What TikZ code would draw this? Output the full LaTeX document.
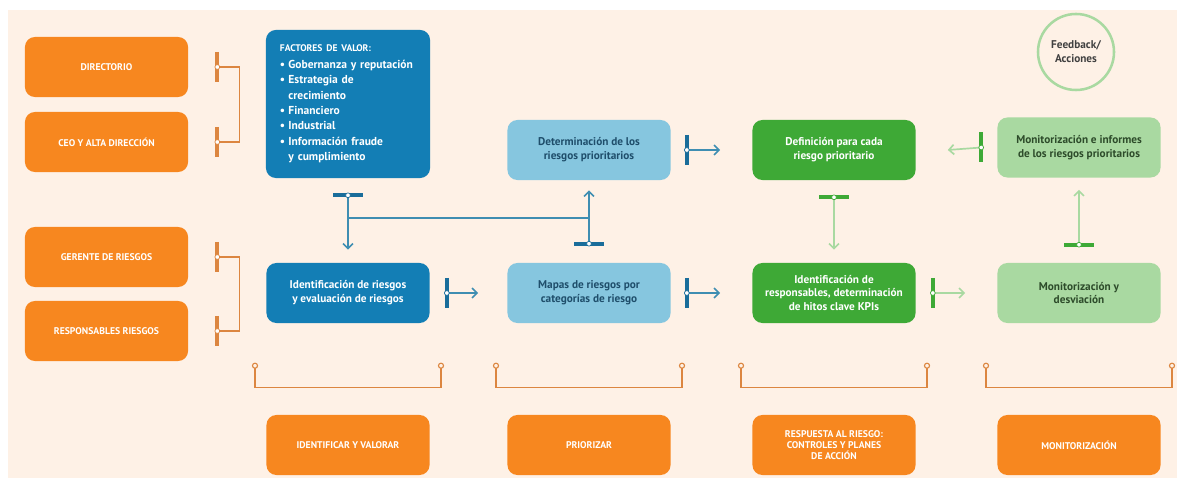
\documentclass[tikz,border=0pt]{standalone}
\usepackage{fontspec}
\setmainfont{PT Sans}
\usetikzlibrary{arrows.meta,calc}

\definecolor{crema}{HTML}{FEF1E6}
\definecolor{naranja}{HTML}{F7871F}
\definecolor{naranjaos}{HTML}{DC8640}
\definecolor{azul}{HTML}{137EB5}
\definecolor{azulcl}{HTML}{86C6DF}
\definecolor{azultx}{HTML}{1F4E6B}
\definecolor{azulln}{HTML}{3F8EB2}
\definecolor{azultk}{HTML}{1A6D9A}
\definecolor{verde}{HTML}{3EA936}
\definecolor{verdecl}{HTML}{A9D9A1}
\definecolor{verdetx}{HTML}{2D4B2A}

\newcommand{\punto}{\makebox[6pt][l]{\textbullet}}
\newcommand{\sigue}{\hspace*{6pt}}

\tikzset{
  caja/.style={rounded corners=7pt, minimum width=4.075cm, minimum height=1.5cm,
    align=center, inner sep=2pt, font=\bfseries\fontsize{8}{9.8}\selectfont},
  obox/.style={caja, fill=naranja, text=white, font=\bfseries\fontsize{6.9}{8}\selectfont},
  bbox/.style={caja, fill=azul, text=white},
  lbbox/.style={caja, fill=azulcl, text=azultx},
  gbox/.style={caja, fill=verde, text=white},
  lgbox/.style={caja, fill=verdecl, text=verdetx},
  bcon/.style={draw=azulln, line width=1.2pt, -{Straight Barb[length=3.5pt,width=7pt]}},
  gcon/.style={draw=verdecl, line width=1.2pt, -{Straight Barb[length=3.5pt,width=7pt]}},
  obr/.style={draw=naranjaos, line width=1.1pt},
  vtick/.pic={\draw[line width=2.6pt] (0,-15) -- (0,15);
    \filldraw[fill=white, line width=0.5pt] (0,0) circle (1.7pt);},
  htick/.pic={\draw[line width=2.6pt] (-15,0) -- (15,0);
    \filldraw[fill=white, line width=0.5pt] (0,0) circle (1.7pt);}
}

\begin{document}
\begin{tikzpicture}[x=0.025cm, y=-0.025cm]
  \useasboundingbox (0,0) rectangle (1177,478);
  \fill[crema] (8,10) rectangle (1177,478);

  % actores
  \node[obox] (dir) at (106.5,67) {DIRECTORIO};
  \node[obox] (ceo) at (106.5,142) {CEO Y ALTA DIRECCIÓN};
  \node[obox] (ger) at (106.5,257) {GERENTE DE RIESGOS};
  \node[obox] (resp) at (106.5,331) {RESPONSABLES RIESGOS};

  % procesos
  \node[bbox, minimum height=3.7cm, text width=3.4cm, inner xsep=0.35cm, align=left,
    font=\bfseries\fontsize{8.2}{10.9}\selectfont] (fact) at (348,104)
    {{\fontsize{6.8}{10}\selectfont FACTORES DE VALOR:}\\[1pt]
     \punto Gobernanza y reputación\\
     \punto Estrategia de\\ \sigue crecimiento\\
     \punto Financiero\\
     \punto Industrial\\
     \punto Información fraude\\ \sigue y cumplimiento};
  \node[bbox] (iden) at (348,293) {Identificación de riesgos\\y evaluación de riesgos};
  \node[lbbox] (deter) at (589,150) {Determinación de los\\riesgos prioritarios};
  \node[lbbox] (mapas) at (589,293) {Mapas de riesgos por\\categorías de riesgo};
  \node[gbox] (defin) at (834,150) {Definición para cada\\riesgo prioritario};
  \node[gbox] (respkpi) at (834,293) {Identificación de\\responsables, determinación\\de hitos clave KPIs};
  \node[lgbox] (moninf) at (1079,147.5) {Monitorización e informes\\de los riesgos prioritarios};
  \node[lgbox] (mondes) at (1079,293) {Monitorización y\\desviación};
  \node[circle, draw=verdecl, line width=1.8pt, minimum size=1.9cm, align=center,
    text=black!75, font=\bfseries\fontsize{8}{10}\selectfont] (feed) at (1076,52) {Feedback/\\Acciones};

  % fases
  \node[obox] (fase1) at (348,445) {IDENTIFICAR Y VALORAR};
  \node[obox] (fase2) at (589,445) {PRIORIZAR};
  \node[obox] (fase3) at (834,445) {RESPUESTA AL RIESGO:\\CONTROLES Y PLANES\\DE ACCIÓN};
  \node[obox] (fase4) at (1079,445) {MONITORIZACIÓN};

  % llaves de actores
  \draw[obr] ($(dir.east)+(29,0)$) -- ++(22,0) |- ($(ceo.east)+(29,0)$);
  \draw[obr] ($(ger.east)+(29,0)$) -- ++(22,0) |- ($(resp.east)+(29,0)$);
  \foreach \n in {dir,ceo,ger,resp}
    \pic[draw=naranjaos] at ($(\n.east)+(29,0)$) {vtick};

  % llaves de fases
  \foreach \n in {fase1,fase2,fase3,fase4} {
    \draw[obr] ($(\n.north)+(-93,-49)$) -- ++(0,22) -- ++(186,0) -- ++(0,-22);
    \filldraw[obr, fill=crema, line width=0.8pt] ($(\n.north)+(-93,-49)$) circle (1.8pt);
    \filldraw[obr, fill=crema, line width=0.8pt] ($(\n.north)+(93,-49)$) circle (1.8pt);
  }

  % flujo azul
  \coordinate (jn) at ($(fact.south)+(0,40)$);
  \draw[bcon] ($(fact.south)+(0,17)$) -- ($(iden.north)+(0,-13)$);
  \draw[draw=azulln, line width=1.2pt] (jn) -- (jn -| deter.south);
  \draw[bcon] ($(mapas.north)+(0,-19)$) -- ($(deter.south)+(0,10)$);
  \draw[bcon] ($(iden.east)+(17,0)$) -- ($(mapas.west)+(-29,0)$);
  \draw[bcon] ($(deter.east)+(16,0)$) -- ($(defin.west)+(-32,0)$);
  \draw[bcon] ($(mapas.east)+(16,0)$) -- ($(respkpi.west)+(-32,0)$);
  \pic[draw=azultk] at ($(fact.south)+(0,17)$) {htick};
  \pic[draw=azultk] at ($(mapas.north)+(0,-19)$) {htick};
  \pic[draw=azultk] at ($(iden.east)+(17,0)$) {vtick};
  \pic[draw=azultk] at ($(deter.east)+(16,0)$) {vtick};
  \pic[draw=azultk] at ($(mapas.east)+(16,0)$) {vtick};

  % flujo verde
  \draw[gcon] ($(defin.south)+(0,17)$) -- ($(respkpi.north)+(0,-13)$);
  \draw[gcon] ($(respkpi.east)+(17,0)$) -- ($(mondes.west)+(-32,0)$);
  \draw[gcon] ($(mondes.north)+(0,-18)$) -- ($(moninf.south)+(0,12)$);
  \draw[gcon] ($(moninf.west)+(-16,0)$) -- ($(defin.east)+(32,0)$);
  \pic[draw=verde] at ($(defin.south)+(0,17)$) {htick};
  \pic[draw=verde] at ($(respkpi.east)+(17,0)$) {vtick};
  \pic[draw=verde] at ($(mondes.north)+(0,-18)$) {htick};
  \pic[draw=verde] at ($(moninf.west)+(-16,0)$) {vtick};
\end{tikzpicture}
\end{document}
